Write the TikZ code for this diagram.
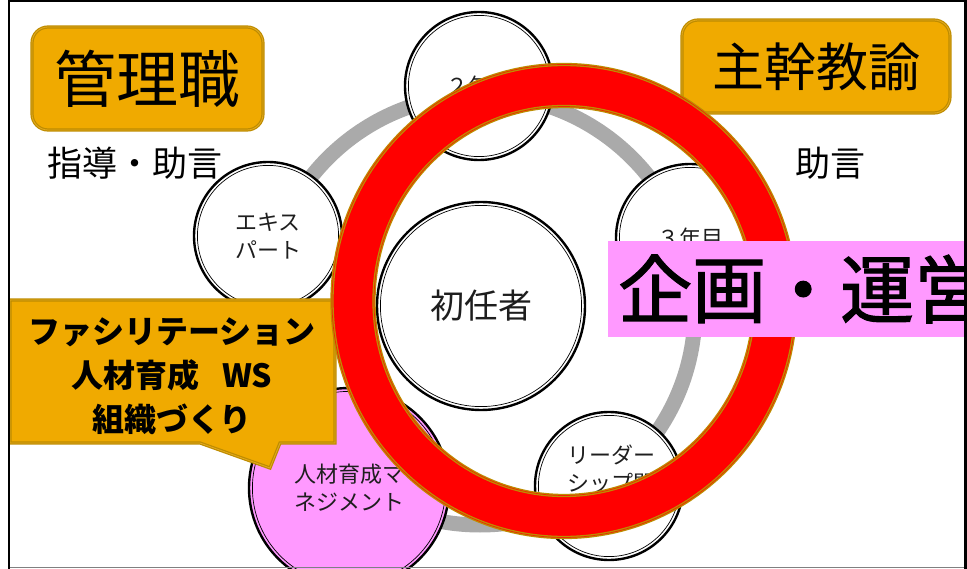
\documentclass[tikz,border=0pt]{standalone}
\usepackage{fontspec}
\setmainfont{Noto Sans CJK JP}
\newfontfamily\jpmed[FakeBold=1.6]{Noto Sans CJK JP}
\definecolor{orangefill}{RGB}{240,170,0}
\definecolor{goldline}{RGB}{190,140,0}
\definecolor{goldlight}{RGB}{228,170,30}
\definecolor{pinkfill}{RGB}{255,153,255}
\definecolor{ringgray}{RGB}{170,170,170}
\definecolor{ringred}{RGB}{255,0,0}
\definecolor{txt}{RGB}{30,30,30}
\begin{document}
\begin{tikzpicture}[x=1pt,y=-1pt,
  smallcirc/.style={circle, draw=black, line width=2.4pt, fill=white, minimum size=148pt, inner sep=0pt,
    font=\fontsize{22}{28}\selectfont, align=center, text=txt},
  innerline/.style={draw=black, line width=0.7pt},
  ctext/.style={font=\fontsize{22}{28}\selectfont, align=center, text=txt, inner sep=0pt},
  orangebox/.style={rounded corners=16pt, fill=orangefill, draw=goldline, line width=1.2pt,
    double=goldlight, double distance=0.8pt, inner sep=0pt},
  plaintext/.style={font=\fontsize{35}{40}\selectfont, text=black, inner sep=0pt},
  calloutshape/.style={fill=orangefill, draw=goldline, line width=1.2pt, double=goldlight, double distance=0.8pt, line join=miter},
  redborder/.style={draw=goldline, line width=1.3pt, double=ringred!70!goldline, double distance=0.7pt}
]
\useasboundingbox (0,0) rectangle (967,569);

% gray ring
\draw[ringgray, line width=15pt] (480,310) circle[radius=215pt];

% small circles
\node[smallcirc] (c2) at (479,86) {２年目};
\draw[innerline] (c2.center) circle[radius=70.6pt];
\node[smallcirc] (c3) at (690,238) {３年目};
\draw[innerline] (c3.center) circle[radius=70.6pt];
\node[smallcirc] (expert) at (268,236) {エキス\\パート};
\draw[innerline] (expert.center) circle[radius=70.6pt];
\node[smallcirc] (leader) at (609,486) {};
\draw[innerline] (leader.center) circle[radius=70.6pt];
\node[ctext] (leadertxt) at (611,469) {リーダー\\シップ開};

% center circle
\node[smallcirc, minimum size=208pt, font=\fontsize{34}{40}\selectfont] (shonin) at (481,306) {初任者};
\draw[innerline] (shonin.center) circle[radius=100.6pt];

% pink circle
\node[smallcirc, fill=pinkfill, minimum size=200pt] (jinzai) at (349,488) {人材育成マ\\ネジメント};
\draw[innerline] (jinzai.center) circle[radius=96.6pt];

% orange boxes
\node[orangebox, minimum width=231pt, minimum height=103pt, font=\fontsize{62}{70}\selectfont] (kanri) at (147.5,78.5) {管理職};
\node[orangebox, minimum width=268pt, minimum height=93pt, font=\fontsize{52}{60}\selectfont] (shukan) at (816,66.5) {主幹教諭};

% plain texts
\node[plaintext] (shido) at (135,163) {指導・助言};
\node[plaintext] (jogen) at (830,163) {助言};

% callout
\draw[calloutshape] (10,300) -- (335,300) -- (335,443) -- (280,443) -- (270,468) -- (200,443) -- (10,443) -- cycle;
\node[font=\bfseries\fontsize{32}{44}\selectfont, align=center, text=black, inner sep=0pt] (callouttxt) at (172,376)
  {ファシリテーション\\人材育成\hspace{0.7em}WS\\組織づくり};

% red ring
\draw[ringred, line width=42pt] (564,301) ellipse[x radius=211pt, y radius=215.5pt];
\draw[redborder] (564,301) ellipse[x radius=232pt, y radius=236.5pt];
\draw[redborder] (564,301) ellipse[x radius=190pt, y radius=194.5pt];

% pink box
\begin{scope}
\clip (0,0) rectangle (964,569);
\node[fill=pinkfill, anchor=west, minimum height=96pt, text width=390pt, align=left, inner xsep=10pt, inner ysep=0pt,
  font=\jpmed\fontsize{74}{80}\selectfont, text=black] (kikaku) at (608,289) {企画・運営};
\end{scope}

% frame
\draw[black, line width=2.5pt] (8.75,0) -- (8.75,569);
\draw[black, line width=2.5pt] (8,1.2) -- (967,1.2);
\draw[black, line width=3pt] (965.5,0) -- (965.5,569);
\draw[gray, line width=1pt] (10,567.5) -- (964,567.5);
\end{tikzpicture}
\end{document}
